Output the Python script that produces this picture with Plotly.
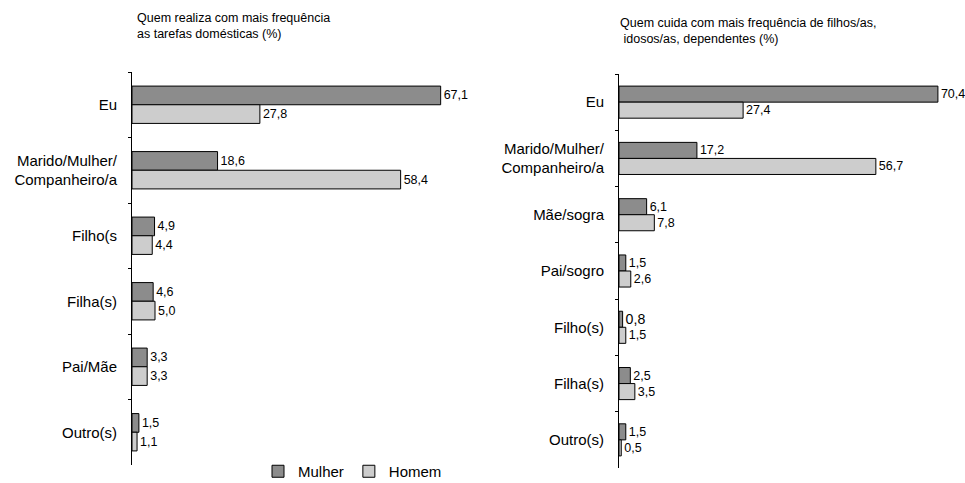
import plotly.graph_objects as go

# ---- data ----
cats_left = ["Eu", "Marido/Mulher/<br>Companheiro/a", "Filho(s", "Filha(s)", "Pai/Mãe", "Outro(s)"]
mulher_left = [67.1, 18.6, 4.9, 4.6, 3.3, 1.5]
homem_left = [27.8, 58.4, 4.4, 5.0, 3.3, 1.1]

cats_right = ["Eu", "Marido/Mulher/<br>Companheiro/a", "Mãe/sogra", "Pai/sogro", "Filho(s)", "Filha(s)", "Outro(s)"]
mulher_right = [70.4, 17.2, 6.1, 1.5, 0.8, 2.5, 1.5]
homem_right = [27.4, 56.7, 7.8, 2.6, 1.5, 3.5, 0.5]

title_left = "Quem realiza com mais frequência<br>as tarefas domésticas (%)"
title_right = "Quem cuida com mais frequência de filhos/as,<br> idosos/as, dependentes (%)"

series_names = ["Mulher", "Homem"]
colors = ["#8c8c8c", "#cdcdcd"]

FONT = "Liberation Sans, Arial, sans-serif"
W, H = 965, 483


def fmt(v):
    return f"{v:.1f}".replace(".", ",")


fig = go.Figure()

def add_panel(cats, m, h, xa, ya, showlegend, msizes=None):
    for i, (vals, name) in enumerate([(m, series_names[0]), (h, series_names[1])]):
        sizes = 12.5
        if msizes is not None and i == 0:
            sizes = msizes
        fig.add_trace(go.Bar(
            y=cats, x=vals, orientation="h", name=name,
            marker=dict(color=colors[i], line=dict(color="#000000", width=1)),
            text=[fmt(v) for v in vals], textposition="outside",
            textfont=dict(size=sizes, color="#000000", family=FONT),
            cliponaxis=False, xaxis=xa, yaxis=ya, showlegend=showlegend,
            offsetgroup=str(i), hoverinfo="skip",
        ))

add_panel(cats_left, mulher_left, homem_left, "x", "y", True)
add_panel(cats_right, mulher_right, homem_right, "x2", "y2", False,
          msizes=[12.5, 12.5, 12.5, 12.5, 15, 12.5, 12.5])

def px_x(p):
    return p / W

def px_y(p):
    return 1 - p / H

common_y = dict(type="category", autorange="reversed", showline=True, linecolor="#000000",
                linewidth=1, ticks="outside", ticklen=3, tickcolor="#000000",
                tickson="boundaries", showgrid=False, zeroline=False, automargin=False,
                tickfont=dict(size=15, color="#000000", family=FONT), ticklabelstandoff=11)
common_x = dict(visible=False, showgrid=False, zeroline=False, range=[0, 75],
                fixedrange=True, automargin=False)

fig.update_layout(
    width=W, height=H,
    margin=dict(l=0, r=0, t=0, b=0, autoexpand=False),
    paper_bgcolor="#ffffff", plot_bgcolor="#ffffff",
    barmode="group", bargap=0.43, bargroupgap=0,
    font=dict(family=FONT, color="#000000"),
    xaxis=dict(domain=[px_x(132), px_x(132 + 4.6 * 75)], anchor="y", **common_x),
    yaxis=dict(domain=[px_y(465), px_y(72)], anchor="x", **common_y),
    xaxis2=dict(domain=[px_x(619), px_x(619 + 4.53 * 75)], anchor="y2", **common_x),
    yaxis2=dict(domain=[px_y(468), px_y(74)], anchor="x2", **common_y),
    legend=dict(orientation="h", x=px_x(258), y=px_y(455), xanchor="left", yanchor="top",
                font=dict(size=15, color="#000000", family=FONT), itemwidth=30,
                bgcolor="rgba(0,0,0,0)"),
    annotations=[
        dict(text=title_left, x=px_x(135), y=px_y(9), xref="paper", yref="paper",
             xanchor="left", yanchor="top", align="left", showarrow=False,
             font=dict(size=12.5, color="#000000", family=FONT)),
        dict(text=title_right, x=px_x(618), y=px_y(14), xref="paper", yref="paper",
             xanchor="left", yanchor="top", align="left", showarrow=False,
             font=dict(size=12.5, color="#000000", family=FONT)),
    ],
)

fig.write_html("out.html", config={"displayModeBar": False, "staticPlot": True},
               post_script="document.body.style.margin='0px';document.body.style.overflow='hidden';")
